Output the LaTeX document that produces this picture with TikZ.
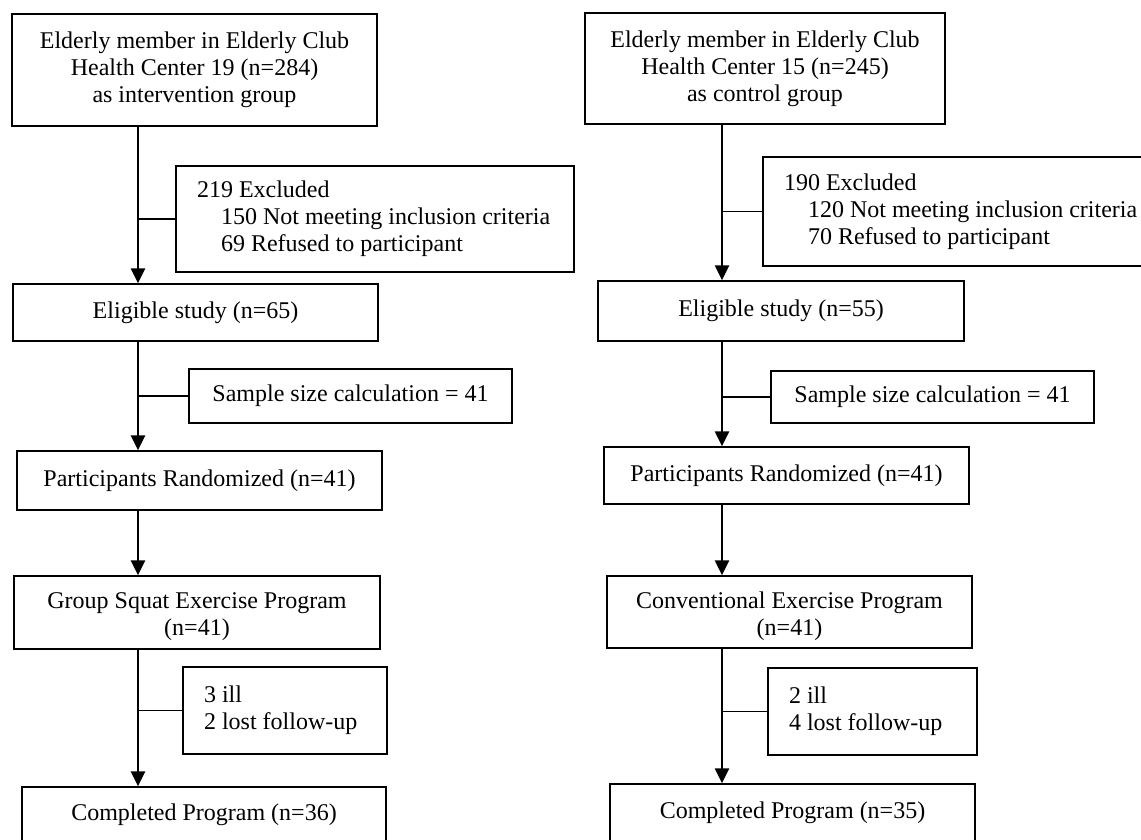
\documentclass[tikz,border=0pt]{standalone}
\usepackage{fontspec}
\setmainfont{Liberation Serif}
\usetikzlibrary{arrows.meta}
\begin{document}
\begin{tikzpicture}[x=1pt, y=-1pt,
  box/.style={draw, line width=1.5pt, align=center, inner sep=0pt, font=\fontsize{24}{27}\selectfont},
  side/.style={box, align=flush left, inner xsep=21pt},
  trunk/.style={line width=2.6pt, -{Triangle[width=14pt, length=15pt]}},
  branch/.style={line width=1.5pt}]
\path[use as bounding box] (0,0) rectangle (1141,840);
\clip (0,0) rectangle (1141,840);
\coordinate (T_0) at (138,0);
\coordinate (T_1) at (722,0);
\node[box, minimum width=365, minimum height=112] (M_0_0) at (194.5,70) {Elderly member in Elderly Club\\Health Center 19 (n=284)\\as intervention group};
\node[side, text width=356, minimum height=106] (S_0_0) at (375,219) {219 Excluded\\\mbox{\hspace*{1em}150 Not meeting inclusion criteria}\\\mbox{\hspace*{1em}69 Refused to participant}};
\node[box, minimum width=365, minimum height=57] (M_0_1) at (195.5,312.5) {Eligible study (n=65)};
\draw[trunk] (M_0_0.south -| T_0) -- (M_0_1.north -| T_0);
\draw[branch] (S_0_0.west) -- (S_0_0.west -| T_0);
\node[box, minimum width=323, minimum height=54] (S_0_1) at (350.5,396) {Sample size calculation = 41};
\node[box, minimum width=365, minimum height=59] (M_0_2) at (199.5,480.5) {Participants Randomized (n=41)};
\draw[trunk] (M_0_1.south -| T_0) -- (M_0_2.north -| T_0);
\draw[branch] (S_0_1.west) -- (S_0_1.west -| T_0);
\node[box, minimum width=366, minimum height=73, text height=52pt] (M_0_3) at (197,612.5) {Group Squat Exercise Program\\(n=41)};
\draw[trunk] (M_0_2.south -| T_0) -- (M_0_3.north -| T_0);
\node[side, text width=162, minimum height=87] (S_0_3) at (285,710.5) {3 ill\\\mbox{2 lost follow-up}};
\node[box, minimum width=364, minimum height=55] (M_0_4) at (204,814.5) {Completed Program (n=36)};
\draw[trunk] (M_0_3.south -| T_0) -- (M_0_4.north -| T_0);
\draw[branch] (S_0_3.west) -- (S_0_3.west -| T_0);
\node[box, minimum width=360, minimum height=111] (M_1_0) at (765,68.5) {Elderly member in Elderly Club\\Health Center 15 (n=245)\\as control group};
\node[side, text width=356, minimum height=109] (S_1_0) at (962,211.5) {190 Excluded\\\mbox{\hspace*{1em}120 Not meeting inclusion criteria}\\\mbox{\hspace*{1em}70 Refused to participant}};
\node[box, minimum width=366, minimum height=60] (M_1_1) at (781,311) {Eligible study (n=55)};
\draw[trunk] (M_1_0.south -| T_1) -- (M_1_1.north -| T_1);
\draw[branch] (S_1_0.west) -- (S_1_0.west -| T_1);
\node[box, minimum width=323, minimum height=52] (S_1_1) at (932.5,397) {Sample size calculation = 41};
\node[box, minimum width=365, minimum height=57] (M_1_2) at (786.5,475.5) {Participants Randomized (n=41)};
\draw[trunk] (M_1_1.south -| T_1) -- (M_1_2.north -| T_1);
\draw[branch] (S_1_1.west) -- (S_1_1.west -| T_1);
\node[box, minimum width=365, minimum height=72, text height=52pt] (M_1_3) at (789.5,612) {Conventional Exercise Program\\(n=41)};
\draw[trunk] (M_1_2.south -| T_1) -- (M_1_3.north -| T_1);
\node[side, text width=167, minimum height=87] (S_1_3) at (872.5,711.5) {2 ill\\\mbox{4 lost follow-up}};
\node[box, minimum width=365, minimum height=58] (M_1_4) at (792.5,813) {Completed Program (n=35)};
\draw[trunk] (M_1_3.south -| T_1) -- (M_1_4.north -| T_1);
\draw[branch] (S_1_3.west) -- (S_1_3.west -| T_1);
\end{tikzpicture}
\end{document}
